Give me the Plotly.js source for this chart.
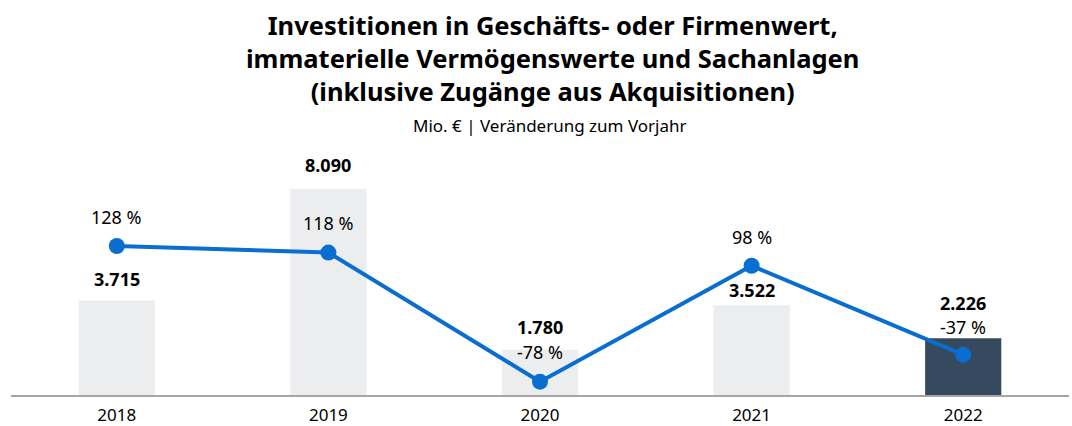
<!DOCTYPE html>
<html>
<head>
<meta charset="utf-8">
<script src="https://cdn.plot.ly/plotly-3.0.1.min.js"></script>
<style>html,body{margin:0;padding:0;background:#fff;}#chart{width:1072px;height:426px;}</style>
</head>
<body>
<div id="chart"></div>
<script>
const years = [2018, 2019, 2020, 2021, 2022];
const yearLabels = ['2018', '2019', '2020', '2021', '2022'];
const investments = [3715, 8090, 1780, 3522, 2226];
const investmentLabels = ['3.715', '8.090', '1.780', '3.522', '2.226'];
const changePct = [128, 118, -78, 98, -37];
const changeLabels = ['128 %', '118 %', '-78 %', '98 %', '-37 %'];
const titleLines = [
  'Investitionen in Geschäfts- oder Firmenwert,',
  'immaterielle Vermögenswerte und Sachanlagen',
  '(inklusive Zugänge aus Akquisitionen)'
];
const subtitle = 'Mio. € | Veränderung zum Vorjahr';

const barColors = ['#ECEDEF', '#ECEDEF', '#ECEDEF', '#ECEDEF', '#354A5F'];
const barLabelShift = [21, 24, 23, 15, 35];
const pctLabelShift = [29, 30, 30, 29, 28];
const FONT = 'Noto Sans, Liberation Sans, Arial, sans-serif';

const W = 1072, H = 426, M = {l: 11, r: 3, t: 150, b: 31};
const plotH = H - M.t - M.b;
const pyToPaper = py => (H - M.b - py) / plotH;

const traces = [
  {
    type: 'bar', x: years, y: investments, yaxis: 'y', width: 0.36,
    marker: {color: barColors, line: {width: 0}}, hoverinfo: 'skip', showlegend: false
  },
  {
    type: 'scatter', mode: 'lines+markers', x: years, y: changePct, yaxis: 'y2',
    line: {color: '#0A6ED1', width: 4}, marker: {color: '#0A6ED1', size: 16},
    hoverinfo: 'skip', showlegend: false, cliponaxis: false
  }
];

const annotations = [];
years.forEach((yr, i) => {
  annotations.push({
    x: yr, y: investments[i], xref: 'x', yref: 'y', text: '<b>' + investmentLabels[i] + '</b>',
    showarrow: false, yanchor: 'middle', yshift: barLabelShift[i],
    font: {family: FONT, size: 18, color: '#000'}
  });
  annotations.push({
    x: yr, y: changePct[i], xref: 'x', yref: 'y2', text: changeLabels[i],
    showarrow: false, yanchor: 'middle', yshift: pctLabelShift[i],
    font: {family: FONT, size: 18, color: '#000'}
  });
});
annotations.push({
  x: 0.512, y: pyToPaper(58), xref: 'paper', yref: 'paper',
  xanchor: 'center', yanchor: 'middle', showarrow: false, align: 'center',
  text: '<b>' + titleLines.join('<br>') + '</b>',
  font: {family: FONT, size: 25.5, color: '#000'}
});
annotations.push({
  x: 0.509, y: pyToPaper(126), xref: 'paper', yref: 'paper', yanchor: 'middle', xanchor: 'center',
  text: subtitle, showarrow: false,
  font: {family: FONT, size: 17, color: '#000'}
});

const layout = {
  width: W, height: H,
  margin: M,
  paper_bgcolor: '#fff', plot_bgcolor: '#fff',
  xaxis: {
    type: 'linear', range: [2017.5, 2022.5], showgrid: false, zeroline: false,
    showline: true, linecolor: '#A6A6A6', linewidth: 2,
    tickmode: 'array', tickvals: years, ticktext: yearLabels,
    ticks: '', ticklabelstandoff: 4, tickfont: {family: FONT, size: 17, color: '#000'}
  },
  yaxis: {range: [0, 9623], visible: false, showgrid: false, zeroline: false},
  yaxis2: {range: [-98.2, 273.7], overlaying: 'y', visible: false, showgrid: false, zeroline: false},
  annotations: annotations,
  showlegend: false
};

Plotly.newPlot('chart', traces, layout, {staticPlot: true, displayModeBar: false});
</script>
</body>
</html>
